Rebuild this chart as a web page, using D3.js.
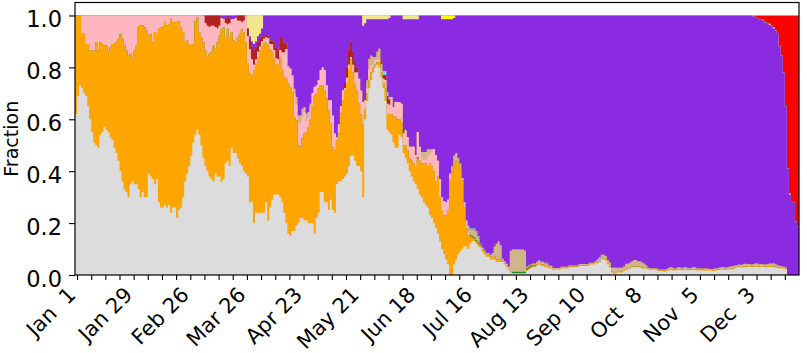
<!DOCTYPE html>
<html>
<head>
<meta charset="utf-8">
<script src="https://cdn.jsdelivr.net/npm/d3@7"></script>
<style>
  body { margin: 0; background: #fff; }
  svg { display: block; }
  text { font-family: "DejaVu Sans", sans-serif; fill: #000; }
</style>
</head>
<body>
<svg id="chart" width="807" height="353"></svg>
<script>
// Daily lineage shares (percent of sequenced samples), one value per day starting at startDate.
const startDate = "2020-12-31";

const other = [
62,69,73,72,70,69,65,60,55,51, 50,49,54,55,57,56,55,53,52,49,
47,44,40,36,33,32,30,35,36,35, 35,33,30,32,30,30,39,38,37,35,
37,28,26,26,27,26,27,24,26,26, 22,25,26,30,36,39,42,46,51,54,
56,54,50,45,42,40,38,37,36,39, 38,38,36,37,43,44,42,49,47,47,
45,43,42,40,39,38,28,28,20,24, 24,24,24,24,28,21,26,29,31,31,
31,30,28,24,20,16,15,17,17,19, 20,22,22,21,21,20,20,20,16,22,
24,32,32,28,28,25,29,25,24,35, 36,36,37,38,39,42,46,46,44,42,
42,40,30,60,67,72,75,78,80,81, 80,76,72,67,56,55,54,51,49,49,
54,53,47,45,43,40,38,36,35,33, 31,30,28,27,26,23,22,20,18,16,
13,10,8,6,4,0,0,4,6,8, 9,10,11,11,10,12,13,13,12,11,
10.5,9,8,7,7,6,6,6,5,5, 5,5,4,3,2,1,0.5,0.5,0.5,0.5,
0.5,0.5,0.5,1.5,2,2.5,3,3,3.5,4, 3.5,3.5,3,3,2.5,2.5,2,2,2,2,
2.5,2.5,2.5,2.5,3,3,3,3,3,3.5, 3.5,3.5,3.5,3.5,4,4,4,4.5,4.5,5,
6,6,5.5,4,3,1,0.5,0.5,1,1, 1,1.5,2,2,2.5,3,3,3,3,3,
2.5,2.5,2.5,2,2,2,2,2,1.5,1.5, 1.5,1.3,1.5,1.8,2,1.8,1.7,1.8,2,1.9,
1.8,2,1.9,1.8,1.8,2,1.9,1.7,1.8,1.8, 1.7,1.6,1.7,1.7,1.6,1.5,1.6,1.8,1.9,2,
2,1.9,2,2.1,2,2.3,2.6,3,3,2.8, 2.9,3,3.1,3.2,3.1,3,3.2,3.1,3,3.2,
3.1,3,3,3.2,3.1,3,2.8,2.7,2.6,2.5, 2.4,2.2,0,0,0,0,0,0
];

const alpha = [
38,31,27,21,23,20,24,26.5,31.5,35.5, 39.7,37.5,35.7,34,31.5,32.5,31,34.8,37,40.4,
42.7,47,53,55,55.5,54.5,54.6,50.3,47.3,51.5, 53.5,62.8,66.2,64.2,65.5,64.2,53.3,55,52.7,58.6,
56,66.9,69.5,69.8,70.9,70.2,69.5,74.7,71.4,71.4, 75.9,72.9,69.5,63.6,53.7,51.4,47,42.5,38,44,
43.4,39.6,41.7,44.7,44.5,44,47.3,49,52.5,48.2, 51.7,54.3,58.9,58.5,48.7,50.9,49.7,44.6,43.4,42.7,
46.7,50,52.6,53.6,50.7,43.4,49.6,49,59,57.4, 60,62.5,64,65.5,61.5,67.5,61,57,52,50,
50,54,51,52.3,55.6,57.7,57.4,53.5,43.9,40.6, 30,27.4,30.6,33.5,34.1,37,40,45,53.2,48,
48,41,41,43,40,38.5,29.3,24.4,24,16.9, 18.5,26.2,30.3,33,35,37,37,32,30,29,
24,22,28,4,3,3,3,2,1,1, 2,2,2,5,6,7,8,10,12,11,
6,6,3,5,5,5,6,7,7,12, 13,13,15,16,16,20,20,20,18,22,
17,15,15,17,21,37,40,39,38,35, 32,26,15,7,5,3,1.5,1,1,1,
1,1,1,1,1,1,1,1,1,1, 1,0.3,0.3,0.3,0.3,0.3,0.3,0.3,0.3,0.3,
0.3,0.3,0.3,0.6,0.6,0.6,0.6,0.6,0.6,0.6, 0.6,0.6,0.6,0.6,0.6,0.6,0.3,0.3,0.3,0.3,
0.3,0.3,0.3,0.3,0.3,0.3,0.3,0.3,0.3,0.3, 0.3,0.3,0.3,0.3,0.3,0.3,0.3,0.3,0.3,0.3,
0.3,0.3,0.3,0.3,0.3,0.3,0.3,0.3,0.3,0.3, 0.3,0.3,0.3,0.3,0.3,0.3,0.3,0.3,0.3,0.3,
0.3,0.3,0.3,0.3,0.3,0.3,0.3,0.3,0.3,0.3, 0.3,0.3,0.3,0.3,0.3,0.3,0.3,0.3,0.3,0.3,
0.3,0.3,0.3,0.3,0.3,0.3,0.3,0.3,0.3,0.3, 0.3,0.3,0.3,0.3,0.3,0.3,0.3,0.3,0.3,0.3,
0.3,0.3,0.3,0.3,0.3,0.3,0.3,0.3,0.3,0.3, 0.3,0.3,0.3,0.3,0.3,0.3,0.3,0.3,0.3,0.3,
0.3,0.3,0.3,0.3,0.3,0.3,0.3,0.3,0.3,0.3, 0.3,0.3,0,0,0,0,0,0
];

const kappa = [
0,0,0,0,0,0,0,0,0,0, 0,0,0,0,0,0,0,0,0,0,
0,0,0,0,0,0,0,0,0,0, 0,0,0,0,0,0,0,0,0,0,
0,0,0,0,0,0,0,0,0,0, 0,0,0,0,0,0,0,0,0,0,
0,0,0,0,0,0,0,0,0,0, 0,0,0,0,0,0,0,0,0,0,
0,0,0,0,0,0,0,0,0,0, 0,0,0,0,0,0,0,0,0,0,
0,0,0,0,0,0,0,0,0,0, 0,0,0,0,0,0,0,0,0,0,
0,0,0,0,0,0,0,0,0,0, 0,0,0,0,0,0,0,0,0,0,
0,0,0,0,0,0,0,0,0,0, 0,0,0,0,0,0,0,0,0,0,
0,0,0,0,0,0,0,0,0,0.5, 0,0,0,0,0,0,0,0,0,0,
0,0,0,0,0,0,0,0,0,0, 0,0,0,0,0,0.5,0.5,0.5,0.5,0.5,
0.5,0,0,0,0,0,0,0,0,0, 0,0,0,0,0,0,0.5,0.5,0.5,0.5,
0.5,0.5,0.5,0.6,0.6,0.6,0.3,0.3,0,0, 0,0,0,0,0,0,0,0,0,0,
0,0,0,0,0,0,0,0,0,0, 0,0,0,0,0,0,0,0,0,0,
0,0,0,0,0,0,0,0,0,0, 0,0,0,0,0,0,0,0,0,0,
0,0,0,0,0,0,0,0,0,0, 0,0,0,0,0,0,0,0,0,0,
0,0,0,0,0,0,0,0,0,0, 0,0,0,0,0,0,0,0,0,0,
0,0,0,0,0,0,0,0,0,0, 0,0,0,0,0,0,0,0,0,0,
0,0,0,0,0,0,0,0,0,0, 0,0,0,0,0,0,0,0
];

const beta = [
0,0,0,7,7,11,11,13.5,13.5,13.5, 10.3,13.5,10.3,11,11.5,11.5,14,12.2,11,10.6,
10.3,9,7,9,11.5,13.5,15.4,14.7,16.7,13.5, 11.5,4.2,3.8,3.8,4.5,5.8,7.7,7,10.3,6.4,
7,5.1,4.5,4.2,2.1,3.8,3.5,1.3,2.6,2.6, 2.1,2.1,4.5,6.4,10.3,9.6,11,11.5,11,2,
0.6,6.4,8.3,10.3,10.5,12,10.2,10,7.5,8.3, 5.3,3.7,4.1,3,5.3,1.6,5.3,4.9,8.1,9.3,
6.3,5,2.9,4.4,10.3,10.6,9.4,6,2,1.6, 2,1.5,2,1.5,2,2.8,1.9,2.9,3.7,2.5,
2,2.7,6.7,9.4,11.5,6.6,7.1,6.4,8.9,6, 8.5,9.1,8.5,8.2,4.1,3.8,5,5,3.2,3,
3,6,7,8,5,3.8,9,12.1,6.5,1.1, 3.5,2.8,3.8,1,2,2,1,3,4,7,
9.6,9,8.7,3.3,2,4.3,2.6,1,2,1, 1.2,1.3,1.6,3.1,4,3.6,6.6,3.7,5.7,6.7,
6.7,7,4.5,5.8,5.2,4.4,5.4,6.4,4.2,9.6, 5.4,2.4,1.4,1.4,3.5,3.5,5.5,8.5,10.2,6,
7,5,5.5,5,4,2,0,0,0,0, 0,1,2,3,2,0,0,0,0,0,
0,0.5,0,0,0,0,0,0,0,0, 0,0,0,0,0,0,0,0,0,0,
0,0,0,0,0,0,0,0,0.3,0.3, 0.3,0.3,0.3,0.3,0,0,0,0,0,0,
0,0,0,0,0,0,0,0,0,0, 0,0,0,0,0,0,0,0,0,0,
0,0,0,0,0,0,0,0,0,0, 0,0,0,0,0,0,0,0,0,0,
0,0,0,0,0,0,0,0,0,0, 0,0,0,0,0,0,0,0,0,0,
0,0,0,0,0,0,0,0,0,0, 0,0,0,0,0,0,0,0,0,0,
0,0,0,0,0,0,0,0,0,0, 0,0,0,0,0,0,0,0,0,0,
0,0,0,0,0,0,0,0,0,0, 0,0,0,0,0,0,0,0
];

const gamma = [
0,0,0,0,0,0,0,0,0,0, 0,0,0,0,0,0,0,0,0,0,
0,0,0,0,0,0,0,0,0,0, 0,0,0,0,0,0,0,0,0,0,
0,0,0,0,0,0,0,0,0,0, 0,0,0,0,0,0,0,0,0,0,
0,0,0,0,0,0,0,0,0,0, 0,0,0,0,0,0,0,0,0,0,
0,0,0,0,0,0,0,0,0,0, 0,0,0,0,0,0,0,0,0,0,
0,0,0,0,0,0,0,0,2,3, 3,3,3,2,3,2,1,0,0,0,
0,0,0,0,0,0,0,0,0,0, 0,0,0,0,0,0,0,0,0,0,
0,0,0,0,3,4,4,3,1,3, 4,2,0,0,0,0,0,0,0,0,
0,0,0,0,0,0,0,0,0,0, 0,2,3,3,3,2,1,0,0,0,
0,0,0,0,0,0,2,3,3,2, 2,0,0,0,2,2,2.5,3,3,2,
0,0,0.5,0.5,0.5,0.7,1.5,4,6,7, 5.5,1,1,1,1,8,8.5,8.5,8.5,8.5,
8.5,8.5,8,0.5,0.5,0.3,0.5,0.5,0.5,0.5, 0.5,0.5,0.5,0.5,0.5,0.5,0.4,0.4,0.4,0.4,
0.4,0.4,0.4,0.4,0.4,0.4,0.4,0.4,0.4,0.4, 0.4,0.4,0.4,0.4,0.4,0.4,0.4,0.5,1.3,1.5,
1.5,1.5,1.5,1.5,1.5,1.5,2,2,1.5,1.5, 1.5,1.5,2,2,2,2,2.5,2.5,2,2,
2,1.5,1,0.5,0.3,0.3,0.3,0.3,0.3,0.3, 0.3,0.4,0.5,0.6,0.8,0.7,0.5,0.6,0.8,0.7,
0.6,0.8,0.7,0.6,0.5,0.7,0.8,0.6,0.5,0.4, 0.5,0.6,0.5,0.4,0.4,0.5,0.6,0.5,0.6,0.7,
0.8,0.7,0.6,0.8,1,0.9,0.8,0.6,0.7,0.8, 0.9,1,0.8,0.7,0.6,0.8,0.9,1,0.8,0.7,
0.6,0.7,0.8,0.9,1,1.2,1,0.8,0.7,0.6, 0.5,0.4,0,0,0,0,0,0
];

const eta = [
0,0,0,0,0,0,0,0,0,0, 0,0,0,0,0,0,0,0,0,0,
0,0,0,0,0,0,0,0,0,0, 0,0,0,0,0,0,0,0,0,0,
0,0,0,0,0,0,0,0,0,0, 0,0,0,0,0,0,0,0,0,0,
0,0,0,0,3,4,4.5,4,4,4.5, 5,4,0,0,2,2.5,2,0,0,0,
2,2,2.5,2,0,3,4,5,6,5, 4,3,2,1,1,1,1.5,1.5,3,4,
4,5,6,4,2,0.5,0,0,0,0, 0,0,0,0,0,0,0,0,0,0,
0,0,0,0,0,0,0,0,0,0, 0,0,0,2,4,6,6,5,4,2,
0,0,0,0,0,0,0,0,0,0, 0,2,1.5,2,3,2,0,0,0,0,
0,0,0,0,0,0,0,0,0,0, 0,0,0,0,0,0,0,0,0,0,
0,0,0,0,0,0,0,0,0,0, 0,0,0,0,0,0,0,0,0,0,
0,0,0,0,0,0,0,0,0,0, 0,0,0,0,0,0,0,0,0,0,
0,0,0,0,0,0,0,0,0,0, 0,0,0,0,0,0,0,0,0,0,
0,0,0,0,0,0,0,0,0,0, 0,0,0,0,0,0,0,0,0,0,
0,0,0,0,0,0,0,0,0,0, 0,0,0,0,0,0,0,0,0,0,
0,0,0,0,0,0,0,0,0,0, 0,0,0,0,0,0,0,0,0,0,
0,0,0,0,0,0,0,0,0,0, 0,0,0,0,0,0,0,0,0,0,
0,0,0,0,0,0,0,0,0,0, 0,0,0,0,0,0,0,0,0,0,
0,0,0,0,0,0,0,0,0,0, 0,0,0,0,0,0,0,0
];

const iota = [
0,0,0,0,0,0,0,0,0,0, 0,0,0,0,0,0,0,0,0,0,
0,0,0,0,0,0,0,0,0,0, 0,0,0,0,0,0,0,0,0,0,
0,0,0,0,0,0,0,0,0,0, 0,0,0,0,0,0,0,0,0,0,
0,0,0,0,0,0,0,0,0,0, 0,0,0,0,0,0,0,0,0,0,
0,0,0,0,0,0,0,0,0,0, 0,0,0,0,0,0,0,0,0,0,
0,0,0,0,0,0,0,0,0,0, 0,0,0,0,0,0,0,0,0,0,
0,0,0,0,0,0,0,0,0,0, 0,0,0,0,0,0,0,0,0,0,
0,0,0,0,0,0,0,0,0,0, 0,0,1.5,1.5,1.5,1,0,0,0,0,
0,0,0,0,0,0,0,0,0,0, 0,0,0,0,0,0,0,0,0,0,
0,0,0,0,0,0,0,0,0,0, 0,0,0,0,0,0.5,0.5,0.5,0.5,0.5,
0,0,0,0,0,0,0,0,0,0, 0,0,0,0,0,0,0,0,0,0,
0,0,0,0,0,0,0,0,0.3,0.3, 0.3,0.3,0.3,0.3,0,0,0,0,0,0,
0,0,0,0,0,0,0,0,0,0, 0,0,0,0,0,0,0,0,0,0,
0,0,0,0,0,0,0,0,0,0, 0,0,0,0,0,0,0,0,0,0,
0,0,0,0,0,0,0,0,0,0, 0,0,0,0,0,0,0,0,0,0,
0,0,0,0,0,0,0,0,0,0, 0,0,0,0,0,0,0,0,0,0,
0,0,0,0,0,0,0,0,0,0, 0,0,0,0,0,0,0,0,0,0,
0,0,0,0,0,0,0,0,0,0, 0,0,0,0,0,0,0,0
];

const delta = [
0,0,0,0,0,0,0,0,0,0, 0,0,0,0,0,0,0,0,0,0,
0,0,0,0,0,0,0,0,0,0, 0,0,0,0,0,0,0,0,0,0,
0,0,0,0,0,0,0,0,0,0, 0,0,0,0,0,0,0,0,0,0,
0,0,0,0,0,0,0,0,0,0, 0,0,1,1.5,1,1,1,1.5,1.5,1,
0,0,0,0,0,0,1,2,2,2, 2,2,3,8,7.5,7.7,9.6,9.6,10.3,12.5,
13,8.3,8.3,10.3,10.9,19.2,20.5,23.1,28.2,31.4, 38.5,38.5,35.9,35.3,37.8,37.2,34,30,27.6,27,
25,21,20,21,27,32.7,32.7,38.5,45.5,47, 42,35,28.9,26,20,13,10,14,18,20,
24.4,29,29.3,29.7,23.5,15.2,13.9,14.5,14.5,12.5, 11.3,15.2,19.9,19.9,28,30.4,31.4,35.3,33.3,33.3,
33.3,34,44,42.7,45.3,49.1,49.1,49.1,52.3,43.4, 50.6,52.6,52.6,52.6,51.5,51.5,51.5,51.5,53.8,56,
63,68.5,70,70.5,69.5,59.5,56.5,53,53,55, 57,62,72,79,81,82,82,82,83,85,
88,89.5,90.5,91.5,91.5,92.3,91.5,89,88,87, 88.5,93.7,94.7,95.7,96.7,90.7,90.2,90.2,90.2,90.2,
90.2,90.2,90.7,96.8,96.3,96,95.6,95.6,94.8,94.3, 94.8,94.8,95.3,95.3,96.4,96.4,97.3,97.3,97.3,97.3,
96.8,96.8,96.8,96.8,96.3,96.3,96.3,96.3,96.3,95.8, 95.8,95.8,95.8,95.8,95.3,95.3,95.3,94.7,93.9,93.2,
92.2,92.2,92.7,94.2,95.2,97.2,97.2,97.2,97.2,97.2, 97.2,96.7,95.7,95.7,95.2,94.7,94.2,94.2,94.7,94.7,
95.2,95.7,96.2,97.2,97.4,97.4,97.4,97.4,97.9,97.9, 97.9,98,97.7,97.3,96.9,97.2,97.5,97.3,96.9,97.1,
97.3,96.9,97.1,97.3,97.4,97,97,97.4,97.4,97.5, 97.5,97.5,97.5,97.6,97.7,97.7,97.5,97.4,97.2,97,
96.9,97.1,97.1,96.8,96.7,96.5,96.3,96.1,96,96.1, 95.9,95.7,95.8,95.8,96,95.6,95,94.6,94.4,94.3,
94,93.3,92.9,92,91.6,90.6,90.1,89.4,84.4,81.1, 74.8,62.1,41,31,28,28,20.5,18.6
];

const epsilon = [
0,0,0,0,0,0,0,0,0,0, 0,0,0,0,0,0,0,0,0,0,
0,0,0,0,0,0,0,0,0,0, 0,0,0,0,0,0,0,0,0,0,
0,0,0,0,0,0,0,0,0,0, 0,0,0,0,0,0,0,0,0,0,
0,0,0,0,0,0,0,0,0,0, 0,0,0,0,0,0,0,0,0,0,
0,0,0,0,0,5,8,10,11,10, 8,7,5,0,0,0,0,0,0,0,
0,0,0,0,0,0,0,0,0,0, 0,0,0,0,0,0,0,0,0,0,
0,0,0,0,0,0,0,0,0,0, 0,0,0,0,0,0,0,0,0,0,
0,0,4,3,1.5,1.5,1.5,1.5,1.5,1.5, 1.5,1.5,1.5,1.5,1.5,1,0,0,0,0,
0,0,1.5,1.5,1.5,1.5,1.5,1.5,1.5,1.5, 0,0,0,0,0,0,0,0,0,0,
0,0,0,0,0,0,0,0,0,0, 0,0,0,0,0,0,0,0,0,0,
0,0,0,0,0,0,0,0,0,0, 0,0,0,0,0,0,0,0,0,0,
0,0,0,0,0,0,0,0,0,0, 0,0,0,0,0,0,0,0,0,0,
0,0,0,0,0,0,0,0,0,0, 0,0,0,0,0,0,0,0,0,0,
0,0,0,0,0,0,0,0,0,0, 0,0,0,0,0,0,0,0,0,0,
0,0,0,0,0,0,0,0,0,0, 0,0,0,0,0,0,0,0,0,0,
0,0,0,0,0,0,0,0,0,0, 0,0,0,0,0,0,0,0,0,0,
0,0,0,0,0,0,0,0,0,0, 0,0,0,0,0,0,0,0,0,0,
0,0,0,0,0,0,0,0,0,0, 0,0,0,0,0,0,0,0
];

const mu = [
0,0,0,0,0,0,0,0,0,0, 0,0,0,0,0,0,0,0,0,0,
0,0,0,0,0,0,0,0,0,0, 0,0,0,0,0,0,0,0,0,0,
0,0,0,0,0,0,0,0,0,0, 0,0,0,0,0,0,0,0,0,0,
0,0,0,0,0,0,0,0,0,0, 0,0,0,0,0,0,0,0,0,0,
0,0,0,0,0,0,0,0,0,0, 0,0,0,0,0,0,0,0,0,0,
0,0,0,0,0,0,0,0,0,0, 0,0,0,0,0,0,0,0,0,0,
0,0,0,0,0,0,0,0,0,0, 0,0,0,0,0,0,0,0,0,0,
0,0,0,0,0,0,0,0,0,0, 0,0,0,0,0,0,0,0,0,0,
0,0,0,0,0,0,0,0,0,0, 0,0,0,0,0,0,0,0,0,0,
0,1.5,1.5,1.5,1.5,1.5,1.5,1,0,0, 0,0,0,0,0,0,0,0,0,0,
0,0,0,0,0,0,0,0,0,0, 0,0,0,0,0,0,0,0,0,0,
0,0,0,0,0,0,0,0,0,0, 0,0,0,0,0,0,0,0,0,0,
0,0,0,0,0,0,0,0,0,0, 0,0,0,0,0,0,0,0,0,0,
0,0,0,0,0,0,0,0,0,0, 0,0,0,0,0,0,0,0,0,0,
0,0,0,0,0,0,0,0,0,0, 0,0,0,0,0,0,0,0,0,0,
0,0,0,0,0,0,0,0,0,0, 0,0,0,0,0,0,0,0,0,0,
0,0,0,0,0,0,0,0,0,0, 0,0,0,0,0,0.3,0,0,0,0,
0,0,0,0.4,0,0.4,0,0,0,0, 0,0,0,0.4,0,0,0,0
];

const omicron = [
0,0,0,0,0,0,0,0,0,0, 0,0,0,0,0,0,0,0,0,0,
0,0,0,0,0,0,0,0,0,0, 0,0,0,0,0,0,0,0,0,0,
0,0,0,0,0,0,0,0,0,0, 0,0,0,0,0,0,0,0,0,0,
0,0,0,0,0,0,0,0,0,0, 0,0,0,0,0,0,0,0,0,0,
0,0,0,0,0,0,0,0,0,0, 0,0,0,0,0,0,0,0,0,0,
0,0,0,0,0,0,0,0,0,0, 0,0,0,0,0,0,0,0,0,0,
0,0,0,0,0,0,0,0,0,0, 0,0,0,0,0,0,0,0,0,0,
0,0,0,0,0,0,0,0,0,0, 0,0,0,0,0,0,0,0,0,0,
0,0,0,0,0,0,0,0,0,0, 0,0,0,0,0,0,0,0,0,0,
0,0,0,0,0,0,0,0,0,0, 0,0,0,0,0,0,0,0,0,0,
0,0,0,0,0,0,0,0,0,0, 0,0,0,0,0,0,0,0,0,0,
0,0,0,0,0,0,0,0,0,0, 0,0,0,0,0,0,0,0,0,0,
0,0,0,0,0,0,0,0,0,0, 0,0,0,0,0,0,0,0,0,0,
0,0,0,0,0,0,0,0,0,0, 0,0,0,0,0,0,0,0,0,0,
0,0,0,0,0,0,0,0,0,0, 0,0,0,0,0,0,0,0,0,0,
0,0,0,0,0,0,0,0,0,0, 0,0,0,0,0,0,0,0,0,0,
0,0,0,0,0,0,0,0,0,0, 0,0,0,0,0,0,0.6,1,1.5,1.5,
2,2.7,3,3.2,4,4.5,5.8,6.8,12,15.5, 22,35,59,68.6,72,72,79.5,81.4
];

// Stacking order, bottom to top, and fill colours
const seriesKeys   = ["other", "alpha", "kappa", "beta", "gamma", "eta", "iota", "delta", "epsilon", "mu", "omicron"];
const seriesValues = [other, alpha, kappa, beta, gamma, eta, iota, delta, epsilon, mu, omicron];
const seriesColors = ["#dcdcdc", "#ffa500", "#228b22", "#ffb6c1", "#d2b48c", "#b22222", "#87ceeb", "#8a2be2", "#f0e68c", "#ffff00", "#ff0000"];

// Axis ticks
const labelDates = ["2021-01-01", "2021-01-29", "2021-02-26", "2021-03-26", "2021-04-23", "2021-05-21",
                    "2021-06-18", "2021-07-16", "2021-08-13", "2021-09-10", "2021-10-08", "2021-11-05", "2021-12-03"];
const weekTickRange = ["2021-01-01", "2021-12-18"];
const yTicks = [0, 0.2, 0.4, 0.6, 0.8, 1.0];
const yLabel = "Fraction";

const parse = d3.utcParse("%Y-%m-%d");
const t0 = parse(startDate);
const n = other.length;
seriesValues.forEach((arr, j) => {
  if (arr.length !== n) throw new Error(seriesKeys[j] + " has " + arr.length + " values, expected " + n);
});

const rows = d3.range(n).map(i => {
  const r = { date: d3.utcDay.offset(t0, i) };
  seriesKeys.forEach((k, j) => { r[k] = seriesValues[j][i]; });
  return r;
});
// closing point so the last day keeps its full width under the step curve
rows.push({ ...rows[n - 1], date: d3.utcDay.offset(t0, n) });

const margin = { left: 75, right: 799, top: 2.5, bottom: 275 };
const x = d3.scaleUtc().domain([t0, d3.utcDay.offset(t0, n)]).range([margin.left, margin.right]);
const y = d3.scaleLinear().domain([0, 1.05]).range([margin.bottom, margin.top]);
const color = d3.scaleOrdinal().domain(seriesKeys).range(seriesColors);

const svg = d3.select("#chart");

const layers = d3.stack().keys(seriesKeys).offset(d3.stackOffsetExpand)(rows);

// Each layer is filled from the baseline up to its upper edge, drawn top-down,
// so neighbouring bands meet without hairline gaps.
const area = d3.area()
  .curve(d3.curveStepAfter)
  .x(d => x(d.data.date))
  .y0(y(0))
  .y1(d => y(d[1]));

svg.append("g")
  .selectAll("path")
  .data(layers.slice().reverse())
  .join("path")
  .attr("fill", d => color(d.key))
  .attr("d", area);

// x axis: weekly tick marks, labels every four weeks
const weekTicks = d3.utcDay.range(parse(weekTickRange[0]), parse(weekTickRange[1]), 7);
const xAxis = svg.append("g")
  .attr("transform", `translate(0,${margin.bottom})`)
  .call(d3.axisBottom(x).tickValues(weekTicks).tickSize(5).tickFormat(""));
xAxis.select(".domain").remove();
xAxis.selectAll(".tick line").attr("stroke", "#000").attr("stroke-width", 1.1);

const fmt = d3.utcFormat("%b %e");
svg.append("g")
  .selectAll("text")
  .data(labelDates)
  .join("text")
  .attr("transform", d => `translate(${x(parse(d))},296) rotate(-45)`)
  .attr("text-anchor", "end")
  .style("white-space", "pre")
  .style("font-size", "21px")
  .text(d => fmt(parse(d)));

// y axis
const yAxis = svg.append("g")
  .attr("transform", `translate(${margin.left},0)`)
  .call(d3.axisLeft(y).tickValues(yTicks).tickSize(6).tickPadding(7).tickFormat(d3.format(".1f")));
yAxis.select(".domain").remove();
yAxis.selectAll(".tick line").attr("stroke", "#000").attr("stroke-width", 1.1);
yAxis.selectAll(".tick text")
  .attr("dy", "0.5em")
  .style("font-size", "22.5px")
  .style("font-family", "'DejaVu Sans', sans-serif")
  .attr("fill", "#000");

svg.append("text")
  .attr("transform", `translate(18,${(margin.top + margin.bottom) / 2}) rotate(-90)`)
  .attr("text-anchor", "middle")
  .style("font-size", "19px")
  .text(yLabel);

// frame
svg.append("rect")
  .attr("x", margin.left)
  .attr("y", margin.top)
  .attr("width", margin.right - margin.left)
  .attr("height", margin.bottom - margin.top)
  .attr("fill", "none")
  .attr("stroke", "#000")
  .attr("stroke-width", 1.2);
</script>
</body>
</html>
